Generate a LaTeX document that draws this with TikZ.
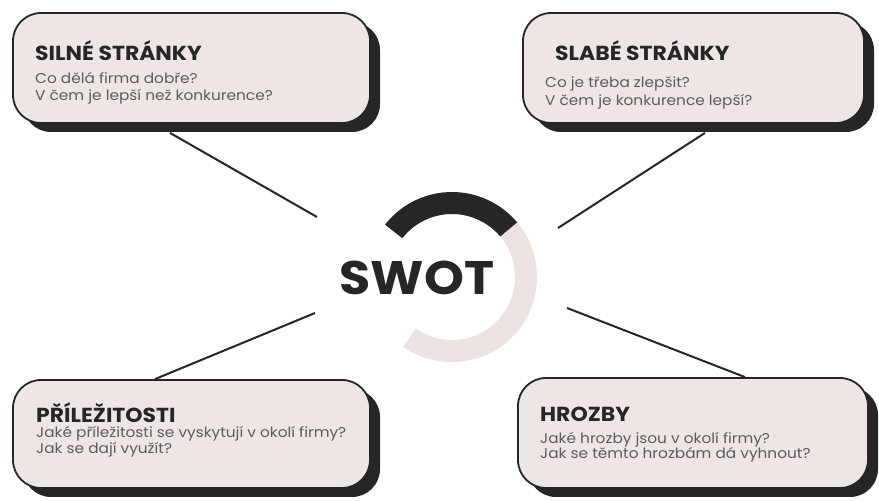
\documentclass[tikz,border=0pt]{standalone}
\usepackage{fontspec}
\setmainfont{Poppins}
\newfontfamily\widesans[FakeStretch=1.08]{Poppins}
\usetikzlibrary{shadows,calc}

\definecolor{boxfill}{RGB}{238,230,228}
\definecolor{ink}{RGB}{38,38,38}
\definecolor{bodygrey}{RGB}{92,92,92}
\definecolor{ringlight}{RGB}{236,226,224}

\tikzset{
  card/.style={rectangle, rounded corners=28pt, draw=ink, line width=1.8pt,
    fill=boxfill, inner sep=0pt,
    drop shadow={shadow xshift=10pt, shadow yshift=-9pt, fill=ink, opacity=1}},
  cardtitle/.style={anchor=base west, inner sep=0pt, text=ink,
    font=\widesans\fontsize{20.3}{22}\selectfont\bfseries},
  cardline/.style={anchor=base west, inner sep=0pt, text=bodygrey,
    font=\widesans\fontsize{14.2}{16}\selectfont},
  spoke/.style={draw=ink, line width=2pt},
}

\begin{document}
\begin{tikzpicture}[x=1pt,y=1pt]
\useasboundingbox (0,0) rectangle (879,501);
\fill[white] (0,0) rectangle (879,501);

% four cards
\node[card, minimum width=357pt, minimum height=110pt] (tl) at (191.5,433) {};
\node[card, minimum width=341pt, minimum height=110pt] (tr) at (693.5,433) {};
\node[card, minimum width=357pt, minimum height=108pt] (bl) at (191.5,67) {};
\node[card, minimum width=350pt, minimum height=110pt] (br) at (693,68) {};

% card texts
\node[cardtitle] (tl-title) at (35,440) {SILNÉ STRÁNKY};
\node[cardline] (tl-a) at (35,417) {Co dělá firma dobře?};
\node[cardline] (tl-b) at (35,400) {V čem je lepší než konkurence?};

\node[cardtitle] (tr-title) at (555,440) {SLABÉ STRÁNKY};
\node[cardline] (tr-a) at (545,413) {Co je třeba zlepšit?};
\node[cardline] (tr-b) at (545,395) {V čem je konkurence lepší?};

\node[cardtitle] (bl-title) at (36,78) {PŘÍLEŽITOSTI};
\node[cardline] (bl-a) at (36,63) {Jaké příležitosti se vyskytují v okolí firmy?};
\node[cardline] (bl-b) at (36,47) {Jak se dají využít?};

\node[cardtitle] (br-title) at (540,79) {HROZBY};
\node[cardline] (br-a) at (540,57) {Jaké hrozby jsou v okolí firmy?};
\node[cardline] (br-b) at (540,42) {Jak se těmto hrozbám dá vyhnout?};

% central ring
\coordinate (c) at (452,224);
\fill[ringlight] ($(c)+(-125:85)$) arc[start angle=-125, end angle=40, radius=85]
  -- ($(c)+(40:63)$) arc[start angle=40, end angle=-125, radius=63] -- cycle;
\fill[ink] ($(c)+(40:85)$) arc[start angle=40, end angle=142, radius=85]
  -- ($(c)+(142:63)$) arc[start angle=142, end angle=40, radius=63] -- cycle;
\node[inner sep=0pt, text=ink, font=\widesans\fontsize{47}{50}\selectfont\bfseries] (swot) at (417,223) {SWOT};

% spokes
\coordinate (tl-in) at (317,284);
\coordinate (tr-in) at (558,273);
\coordinate (bl-in) at (315,188);
\coordinate (br-in) at (567,193);
\draw[spoke] (tl.south -| 170,0) ++(0,-9) -- (tl-in);
\draw[spoke] (tr.south -| 705,0) ++(0,-9) -- (tr-in);
\draw[spoke] (bl.north -| 155,0) -- (bl-in);
\draw[spoke] (br.north -| 745,0) -- (br-in);
\end{tikzpicture}
\end{document}
